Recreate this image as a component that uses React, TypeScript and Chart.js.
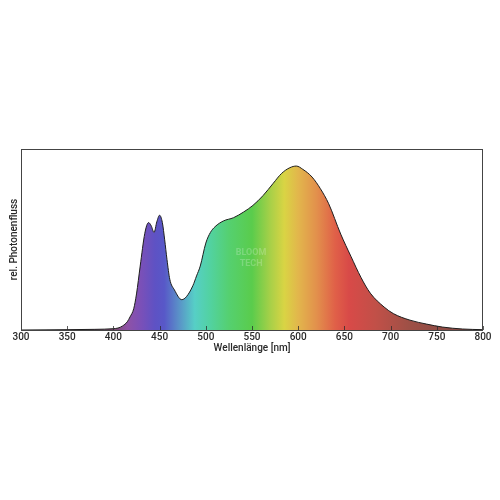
import React, { useEffect, useRef } from "react";
import { Chart, registerables } from "chart.js";

Chart.register(...registerables);

// Wavelengths (nm) and relative photon flux (peak = 1)
const wavelengths = [
  300, 350, 380, 400, 405, 410, 415, 418, 422, 425, 429, 434, 438, 441, 444, 447,
  450, 453, 455.5, 458, 461, 466, 474, 479, 486, 490, 494, 500, 505, 510, 519, 530,
  541, 551, 562, 573, 582, 591, 598, 605, 615, 624, 633, 646, 657, 668, 678, 693,
  703, 721, 739, 756, 778, 800,
];
const photonFlux = [
  0.0, 0.002, 0.004, 0.008, 0.012, 0.025, 0.05, 0.08, 0.13, 0.22, 0.39, 0.59, 0.655, 0.635, 0.595, 0.66,
  0.7, 0.655, 0.55, 0.43, 0.31, 0.245, 0.185, 0.203, 0.27, 0.33, 0.39, 0.53, 0.595, 0.63, 0.665, 0.685,
  0.72, 0.76, 0.82, 0.895, 0.955, 0.99, 1.0, 0.98, 0.933, 0.862, 0.77, 0.585, 0.45, 0.32, 0.225, 0.14,
  0.1, 0.06, 0.036, 0.018, 0.006, 0.002,
];
const xTickValues = [300, 350, 400, 450, 500, 550, 600, 650, 700, 750, 800];
const xTitle = "Wellenlänge [nm]";
const yTitle = "rel. Photonenfluss";

// spectrum colour stops (wavelength -> colour)
const spectrumStops: [number, string][] = [
  [400, "#7a4a6e"],
  [415, "#8f52a6"],
  [430, "#7a50b8"],
  [445, "#5e52c4"],
  [455, "#5858c8"],
  [470, "#5a8ec8"],
  [488, "#56cfc6"],
  [505, "#52d2a0"],
  [525, "#55d070"],
  [550, "#5acc4c"],
  [570, "#a8d048"],
  [585, "#d9d444"],
  [600, "#e2b64c"],
  [620, "#e2904c"],
  [640, "#e06048"],
  [655, "#d84a48"],
  [685, "#c05048"],
  [720, "#9e5046"],
  [770, "#8a4a44"],
];

const FONT = "Roboto, 'DejaVu Sans', sans-serif";

export default function App() {
  const ref = useRef<HTMLCanvasElement | null>(null);

  useEffect(() => {
    document.body.style.margin = "0";
    const canvas = ref.current;
    if (!canvas) return;

    const framePlugin = {
      id: "frame",
      afterDatasetsDraw(chart: any) {
        const { ctx, chartArea, scales } = chart;
        const xs = scales.x;
        ctx.save();
        // inward tick marks
        ctx.strokeStyle = "rgba(40,40,40,0.75)";
        ctx.lineWidth = 1;
        xTickValues.forEach((v) => {
          const px = Math.round(xs.getPixelForValue(v)) + 0.5;
          ctx.beginPath();
          ctx.moveTo(px, chartArea.bottom);
          ctx.lineTo(px, chartArea.bottom - 4);
          ctx.stroke();
        });
        // watermark
        ctx.fillStyle = "rgba(255,255,255,0.22)";
        ctx.font = `bold 9px ${FONT}`;
        ctx.textAlign = "center";
        ctx.textBaseline = "middle";
        ctx.fillText("BLOOM", xs.getPixelForValue(549), 253);
        ctx.fillText("TECH", xs.getPixelForValue(549), 264);
        // frame
        ctx.strokeStyle = "#444";
        ctx.lineWidth = 1;
        ctx.strokeRect(
          chartArea.left + 0.5,
          chartArea.top + 0.5,
          chartArea.right - chartArea.left - 1,
          chartArea.bottom - chartArea.top
        );
        ctx.restore();
      },
    };

    const chart = new Chart(canvas, {
      type: "line",
      data: {
        datasets: [
          {
            data: wavelengths.map((w, i) => ({ x: w, y: photonFlux[i] })),
            borderColor: "#1e1e1e",
            borderWidth: 1,
            pointRadius: 0,
            cubicInterpolationMode: "monotone",
            fill: "origin",
            backgroundColor: (c: any) => {
              const ch = c.chart;
              const { chartArea, scales } = ch;
              if (!chartArea || !scales.x) return "#888";
              const x0 = scales.x.getPixelForValue(300);
              const x1 = scales.x.getPixelForValue(800);
              const g = ch.ctx.createLinearGradient(x0, 0, x1, 0);
              spectrumStops.forEach(([w, col]) => {
                g.addColorStop((w - 300) / 500, col);
              });
              return g;
            },
          },
        ],
      },
      options: {
        responsive: false,
        animation: false,
        layout: { padding: { left: 0, right: 17, top: 149, bottom: 140 } },
        plugins: { legend: { display: false }, tooltip: { enabled: false } },
        scales: {
          x: {
            type: "linear",
            min: 300,
            max: 800,
            afterFit: (s: any) => {
              s.height = 30;
            },
            afterBuildTicks: (s: any) => {
              s.ticks = xTickValues.map((v) => ({ value: v }));
            },
            grid: { display: false, drawTicks: false },
            border: { display: false },
            ticks: {
              padding: 1,
              color: "#2a2a2a",
              font: { family: FONT, size: 10, weight: 500 },
              maxRotation: 0,
            },
            title: {
              display: true,
              text: xTitle,
              color: "#2a2a2a",
              font: { family: FONT, size: 10, weight: 500 },
              padding: { top: 0, bottom: 6 },
            },
          },
          y: {
            min: 0,
            max: 1.104,
            afterFit: (s: any) => {
              s.width = 21;
            },
            grid: { display: false, drawTicks: false },
            border: { display: false },
            ticks: { display: false },
            title: {
              display: true,
              text: yTitle,
              color: "#2a2a2a",
              font: { family: FONT, size: 10, weight: 500 },
              padding: { top: 8, bottom: 0 },
            },
          },
        },
      } as any,
      plugins: [framePlugin],
    });

    return () => chart.destroy();
  }, []);

  return (
    <div style={{ width: 500, height: 500, background: "#fff" }}>
      <canvas ref={ref} width={500} height={500} style={{ display: "block" }} />
    </div>
  );
}
